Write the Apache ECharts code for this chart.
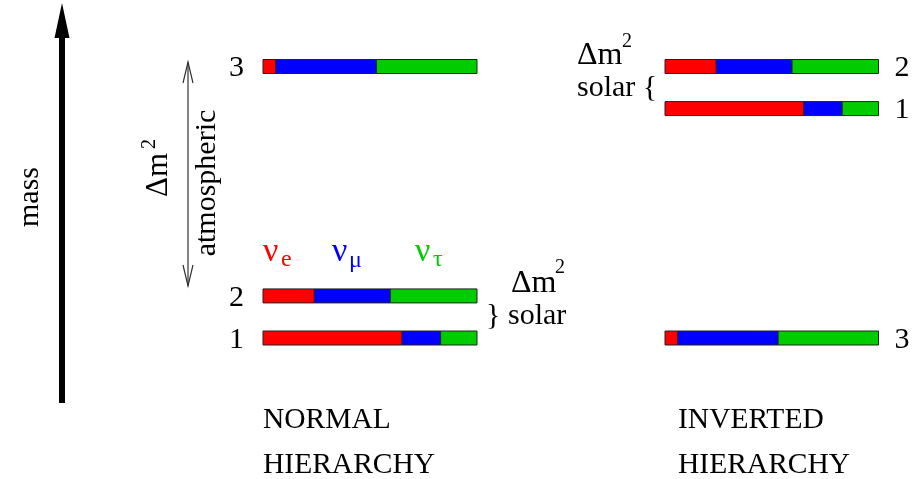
<!DOCTYPE html>
<html>
<head>
<meta charset="utf-8">
<script src="https://cdn.jsdelivr.net/npm/echarts@6/dist/echarts.min.js"></script>
<style>
html,body{margin:0;padding:0;background:#fff;}
#chart{width:915px;height:479px;}
</style>
</head>
<body>
<div id="chart"></div>
<script>
// ---- data ----
const stateNames = ['1', '2', '3'];
const flavorNames = ['e', 'μ', 'τ'];
// flavour content of each mass state (fraction of bar)
const fracE   = [0.65, 0.24, 0.06];
const fracMu  = [0.18, 0.355, 0.47];
const fracTau = [0.17, 0.405, 0.47];
// mass levels (arbitrary units) for each state
const massNormal   = [0, 1.55, 10];
const massInverted = [8.45, 10, 0];
const hierarchyTitles = [['NORMAL', 'HIERARCHY'], ['INVERTED', 'HIERARCHY']];

// ---- style ----
const flavorColors = ['#ff0000', '#0000ff', '#00cc00'];
const serif = '"Liberation Serif", "DejaVu Serif", serif';

function buildData(masses) {
  return stateNames.map((s, i) => [masses[i], fracE[i], fracMu[i], fracTau[i]]);
}

function makeRender(labelSide) {
  return function (params, api) {
    const level = api.value(0);
    const fr = [api.value(1), api.value(2), api.value(3)];
    const h = 14;
    const children = [];
    let cum = 0;
    fr.forEach((f, i) => {
      const p0 = api.coord([cum, level]);
      const p1 = api.coord([cum + f, level]);
      children.push({
        type: 'rect',
        shape: { x: p0[0], y: p0[1] - h / 2, width: p1[0] - p0[0], height: h },
        style: { fill: flavorColors[i], stroke: '#222', lineWidth: 1 }
      });
      cum += f;
    });
    const pl = api.coord([0, level]);
    const pr = api.coord([1, level]);
    const lx = labelSide === 'left' ? pl[0] - 19 : pr[0] + 16;
    children.push({
      type: 'text',
      x: lx, y: pl[1] + 2,
      style: {
        text: stateNames[params.dataIndex],
        font: '30px ' + serif,
        fill: '#000',
        align: labelSide === 'left' ? 'right' : 'left',
        verticalAlign: 'middle',
        textAlign: labelSide === 'left' ? 'right' : 'left',
        textVerticalAlign: 'middle'
      }
    });
    return { type: 'group', children: children };
  };
}

function txt(t, x, y, size, opts) {
  opts = opts || {};
  return {
    type: 'text',
    x: x, y: y,
    rotation: opts.rotation || 0,
    style: {
      text: t,
      font: size + 'px ' + serif,
      fill: opts.fill || '#000',
      align: opts.align || 'left',
      verticalAlign: 'middle',
      textAlign: opts.align || 'left',
      textVerticalAlign: 'middle'
    },
    silent: true
  };
}

const R = Math.PI / 2;
const graphics = [
  // mass arrow
  { type: 'line', shape: { x1: 62, y1: 36, x2: 62, y2: 403 }, style: { stroke: '#000', lineWidth: 6 } },
  { type: 'polygon', shape: { points: [[62, 3], [54.5, 38], [69.5, 38]] }, style: { fill: '#000' } },
  txt('mass', 30, 197, 30, { align: 'center', rotation: R }),
  // atmospheric double arrow
  { type: 'line', shape: { x1: 188, y1: 62, x2: 188, y2: 286 }, style: { stroke: '#333', lineWidth: 1.2 } },
  { type: 'polyline', shape: { points: [[183, 83], [188, 62], [193, 83]] }, style: { stroke: '#333', lineWidth: 1.2, fill: null } },
  { type: 'polyline', shape: { points: [[183, 265], [188, 286], [193, 265]] }, style: { stroke: '#333', lineWidth: 1.2, fill: null } },
  txt('Δm', 159, 175, 31, { align: 'center', rotation: R }),
  txt('2', 150, 144, 20, { align: 'center', rotation: R }),
  txt('atmospheric', 207, 183, 30, { align: 'center', rotation: R }),
  // flavour labels
  txt('ν', 263, 252, 34, { fill: flavorColors[0] }),
  txt(flavorNames[0], 281, 260, 24, { fill: flavorColors[0] }),
  txt('ν', 332, 252, 34, { fill: flavorColors[1] }),
  txt(flavorNames[1], 349, 261, 24, { fill: flavorColors[1] }),
  txt('ν', 415, 252, 34, { fill: flavorColors[2] }),
  txt(flavorNames[2], 433, 260, 24, { fill: flavorColors[2] }),
  // normal solar splitting
  txt('Δm', 511, 284, 32),
  txt('2', 555, 268, 20),
  txt('}', 486, 316, 30),
  txt('solar', 508, 316, 30),
  // inverted solar splitting
  txt('Δm', 577, 56, 32),
  txt('2', 622, 42, 20),
  txt('solar {', 577, 88, 30),
  // titles
  txt(hierarchyTitles[0][0], 263, 420, 29.5),
  txt(hierarchyTitles[0][1], 263, 465, 29.5),
  txt(hierarchyTitles[1][0], 678, 420, 29.5),
  txt(hierarchyTitles[1][1], 678, 465, 29.5)
];

const chart = echarts.init(document.getElementById('chart'), null, { renderer: 'canvas' });
chart.setOption({
  animation: false,
  backgroundColor: '#fff',
  grid: [
    { left: 263, top: 66.5, width: 214, height: 271.5 },
    { left: 665, top: 66.5, width: 213.5, height: 271.5 }
  ],
  xAxis: [
    { gridIndex: 0, type: 'value', min: 0, max: 1, show: false },
    { gridIndex: 1, type: 'value', min: 0, max: 1, show: false }
  ],
  yAxis: [
    { gridIndex: 0, type: 'value', min: 0, max: 10, show: false },
    { gridIndex: 1, type: 'value', min: 0, max: 10, show: false }
  ],
  series: [
    {
      name: 'Normal hierarchy', type: 'custom', xAxisIndex: 0, yAxisIndex: 0,
      renderItem: makeRender('left'), data: buildData(massNormal), clip: false
    },
    {
      name: 'Inverted hierarchy', type: 'custom', xAxisIndex: 1, yAxisIndex: 1,
      renderItem: makeRender('right'), data: buildData(massInverted), clip: false
    }
  ],
  graphic: graphics
});
</script>
</body>
</html>
